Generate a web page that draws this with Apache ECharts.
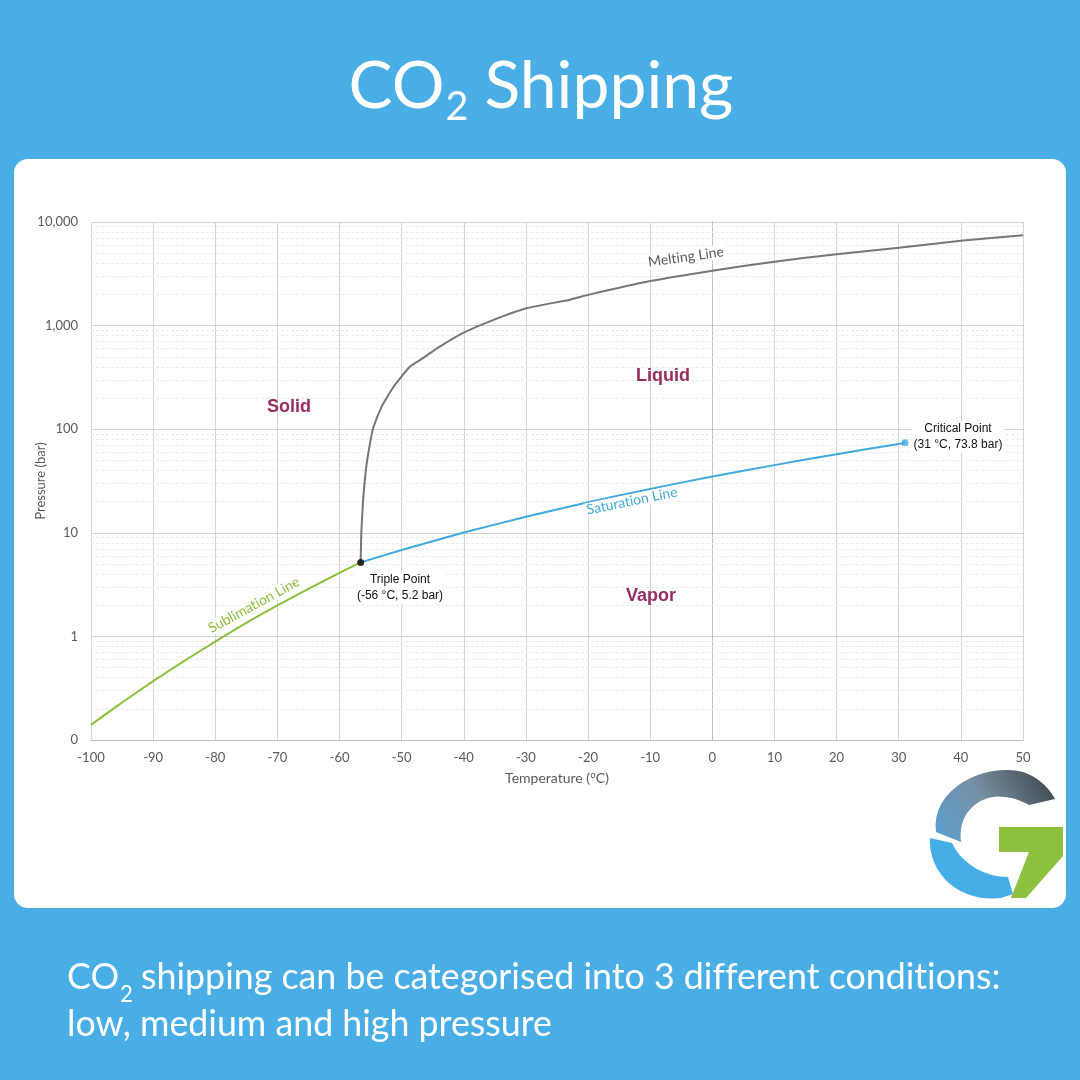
<!DOCTYPE html>
<html>
<head>
<meta charset="utf-8">
<script src="https://cdn.jsdelivr.net/npm/echarts@6/dist/echarts.min.js"></script>
<style>html,body{margin:0;padding:0;background:#4aaee6;}#c{width:1080px;height:1080px;}</style>
</head>
<body>
<div id="c"></div>
<script>
// ---- Data ----
const sublimationT = [-100, -95, -90, -85, -80, -75, -70, -65, -60, -56.6];
const sublimationP = [0.14, 0.23, 0.37, 0.58, 0.89, 1.35, 1.99, 2.88, 4.10, 5.18];

const saturationT = [-56.6, -50, -45, -40, -35, -30, -25, -20, -15, -10, -5, 0, 5, 10, 15, 20, 25, 30, 31];
const saturationP = [5.18, 6.82, 8.3, 10.05, 12.0, 14.28, 16.8, 19.7, 22.9, 26.5, 30.5, 34.9, 39.7, 45.0, 50.9, 57.3, 64.3, 72.1, 73.8];

const meltingT = [-56.6, -56.5, -56.2, -55.7, -55.1, -54.6, -53.2, -51.3, -48.7, -47.0, -43.8, -40.1, -35.3, -29.9, -22.9, -20, -10, 0, 10, 20, 30, 40, 50];
const meltingP = [5.18, 10, 20.7, 43, 73, 102, 166, 257, 400, 467, 630, 850, 1130, 1470, 1780, 1980, 2690, 3390, 4140, 4890, 5650, 6600, 7430];

const triplePoint = [-56.6, 5.18];
const criticalPoint = [31, 73.8];

const xTicks = { min: -100, max: 50, interval: 10 };
const yDecades = [0.1, 1, 10, 100, 1000, 10000];

// minor log gridlines (2..9 in each decade)
const minorTicks = [];
for (let d = 0; d < yDecades.length - 1; d++) {
  for (let k = 2; k <= 9; k++) minorTicks.push(+(yDecades[d] * k).toPrecision(3));
}

const zip = (a, b) => a.map((v, i) => [v, b[i]]);
// avoid Lato's ti / ff / fi ligatures (Calibri in the reference shows none)
const noLig = s => s.replace(/([ft])(?=[fit])/g, '$1\u200C');

function tw(text, font) {
  const ctx = document.createElement('canvas').getContext('2d');
  ctx.font = font;
  return ctx.measureText(text).width;
}

// sample simple path (M, L, C) into polygon points
function pathPoints(cmds) {
  const pts = [];
  let cur = null;
  cmds.forEach(c => {
    if (c[0] === 'M' || c[0] === 'L') { cur = [c[1], c[2]]; pts.push(cur); }
    else if (c[0] === 'C') {
      const p0 = cur, p1 = [c[1], c[2]], p2 = [c[3], c[4]], p3 = [c[5], c[6]];
      for (let i = 1; i <= 16; i++) {
        const t = i / 16, u = 1 - t;
        pts.push([
          u*u*u*p0[0] + 3*u*u*t*p1[0] + 3*u*t*t*p2[0] + t*t*t*p3[0],
          u*u*u*p0[1] + 3*u*u*t*p1[1] + 3*u*t*t*p2[1] + t*t*t*p3[1]
        ]);
      }
      cur = p3;
    }
  });
  return pts;
}

const TF = 'Lato';
const AF = '"Liberation Sans", Arial, sans-serif';
const grey = '#595959';

// ---- Title layout ----
const titleFs = 64 * 249 / tw('Shipping', '64px ' + TF);
const titleSubFs = titleFs * 0.6;
const wCO = tw('CO', titleFs + 'px ' + TF);
const w2 = tw('2', titleSubFs + 'px ' + TF);
const wSh = tw(' Shipping', titleFs + 'px ' + TF);
const titleStart = 541 - (wCO + w2 + wSh) / 2;
const titleBase = 107;

// ---- Bottom text layout ----
const line2 = 'low, medium and high pressure';
const line1rest = noLig(' shipping can be categorised into 3 different conditions:');
const botFs = 32 * 485 / tw(line2, '32px ' + TF);
const botSubFs = botFs * 0.62;
const bCO = tw('CO', botFs + 'px ' + TF);
const b2 = tw('2', botSubFs + 'px ' + TF);

function txt(x, baseline, text, fs) {
  return {
    type: 'text', x: x, y: baseline - 0.30 * fs, z: 50,
    style: { text: text, fill: '#fff', font: fs + 'px ' + TF, align: 'left', verticalAlign: 'middle' }
  };
}

const logoGrey = pathPoints([['M',936,832],['C',930,790,983,762,1023,772],['C',1038,777,1049,788,1055,799],['L',1029,805],['C',1011,795,991,793,976,804],['C',964,813,959,826,961,842]]);
const logoBlue = pathPoints([['M',930,838],['C',928,874,960,903,1001,898],['L',1013,894],['L',1008,877],['C',985,877,962,864,952,843]]);
const logoGreen = [[999,827],[1063,827],[1063,856],[1026,898],[1011,898],[1029,852],[999,852]];

const labelStyle = (text, color, extra) => Object.assign({
  text: text, fill: color, font: '14px ' + TF, align: 'center', verticalAlign: 'middle',
  backgroundColor: '#fff', padding: [0, 2]
}, extra || {});

const graphics = [
  { type: 'rect', z: -10, shape: { x: 14, y: 159, width: 1052, height: 749, r: 14 }, style: { fill: '#ffffff' } },
  txt(titleStart, titleBase, 'CO', titleFs),
  txt(titleStart + wCO + 1, titleBase + 12, '2', titleSubFs),
  txt(titleStart + wCO + w2, titleBase, ' Shipping', titleFs),
  txt(67, 988, 'CO', botFs),
  txt(67 + bCO + 1, 1001, '2', botSubFs),
  txt(67 + bCO + b2, 988, line1rest, botFs),
  txt(67, 1035, line2, botFs),
  // region labels
  { type: 'text', x: 289, y: 407, z: 50, style: { text: 'Solid', fill: '#962d5f', font: 'bold 18px ' + AF, align: 'center', verticalAlign: 'middle' } },
  { type: 'text', x: 663, y: 376, z: 50, style: { text: 'Liquid', fill: '#962d5f', font: 'bold 18px ' + AF, align: 'center', verticalAlign: 'middle' } },
  { type: 'text', x: 651, y: 596, z: 50, style: { text: 'Vapor', fill: '#962d5f', font: 'bold 18px ' + AF, align: 'center', verticalAlign: 'middle' } },
  // line labels
  { type: 'text', x: 686, y: 257, rotation: 0.14, z: 50, style: labelStyle(noLig('Melting Line'), '#595959') },
  { type: 'text', x: 632, y: 501, rotation: 0.2, z: 50, style: labelStyle(noLig('Saturation Line'), '#3fa9e0') },
  { type: 'text', x: 254, y: 605, rotation: 0.5, z: 50, style: labelStyle(noLig('Sublimation Line'), '#8cbf3a') },
  // point annotations
  { type: 'text', x: 400, y: 588, z: 50, style: labelStyle('Triple Point\n(-56 °C, 5.2 bar)', '#111', { font: '12px ' + AF, lineHeight: 16 }) },
  { type: 'text', x: 958, y: 437, z: 50, style: labelStyle('Critical Point\n(31 °C, 73.8 bar)', '#111', { font: '12px ' + AF, lineHeight: 16 }) },
  // logo
  { type: 'polygon', z: 40, shape: { points: logoGrey },
    style: { fill: new echarts.graphic.LinearGradient(0, 1, 1, 0, [{ offset: 0, color: '#5aa0d2' }, { offset: 0.45, color: '#7690a2' }, { offset: 1, color: '#3b4046' }]) } },
  { type: 'polygon', z: 40, shape: { points: logoBlue }, style: { fill: '#45aee6' } },
  { type: 'polygon', z: 40, shape: { points: logoGreen }, style: { fill: '#8dc03f' } }
];

const chart = echarts.init(document.getElementById('c'), null, { renderer: 'canvas' });
chart.setOption({
  backgroundColor: '#4aaee6',
  animation: false,
  grid: { left: 91, right: 57, top: 222, bottom: 340 },
  xAxis: {
    type: 'value', min: xTicks.min, max: xTicks.max, interval: xTicks.interval,
    name: 'Temperature (°C)', nameLocation: 'middle', nameGap: 31,
    nameTextStyle: { color: grey, fontSize: 14, fontFamily: TF },
    axisLine: { onZero: false, lineStyle: { color: '#bfbfbf', width: 1 } },
    axisTick: { show: false },
    axisLabel: { color: grey, fontSize: 13, fontFamily: TF, margin: 11 },
    splitLine: { show: true, lineStyle: { color: '#d4d4d4', width: 1 } }
  },
  yAxis: {
    type: 'log', logBase: 10, min: yDecades[0], max: yDecades[yDecades.length - 1],
    name: 'Pressure (bar)', nameLocation: 'middle', nameGap: 44, nameMoveOverlap: false,
    nameTextStyle: { color: grey, fontSize: 13, fontFamily: TF },
    axisLine: { show: true, lineStyle: { color: '#bfbfbf', width: 1 } },
    axisTick: { show: false },
    axisLabel: { color: grey, fontSize: 13, fontFamily: TF, margin: 13,
      formatter: v => Math.round(v).toLocaleString('en-US') },
    splitLine: { show: true, lineStyle: { color: '#d0d0d0', width: 1 } },
    minorTick: { show: false }, minorSplitLine: { show: false }
  },
  graphic: graphics,
  series: [
    {
      type: 'line', data: [], z: 1, silent: true,
      markLine: {
        z: 1, silent: true, symbol: ['none', 'none'], animation: false,
        label: { show: false },
        emphasis: { disabled: true },
        lineStyle: { color: '#e3eef1', type: [3, 2], width: 1 },
        data: minorTicks.map(v => ({ yAxis: v }))
      }
    },
    { name: 'Sublimation', type: 'line', data: zip(sublimationT, sublimationP), showSymbol: false, smooth: 0.2, z: 3,
      lineStyle: { color: '#8cbf3a', width: 2 } },
    { name: 'Saturation', type: 'line', data: zip(saturationT, saturationP), showSymbol: false, z: 3,
      lineStyle: { color: '#3fa9e0', width: 2 } },
    { name: 'Melting', type: 'line', data: zip(meltingT, meltingP), showSymbol: false, smooth: 0.15, z: 3,
      lineStyle: { color: '#767676', width: 2 } },
    { type: 'scatter', data: [triplePoint], symbolSize: 7, z: 5, itemStyle: { color: '#000' } },
    { type: 'scatter', data: [criticalPoint], symbolSize: 7, z: 5, itemStyle: { color: '#3fa9e0' } }
  ]
});
</script>
</body>
</html>
